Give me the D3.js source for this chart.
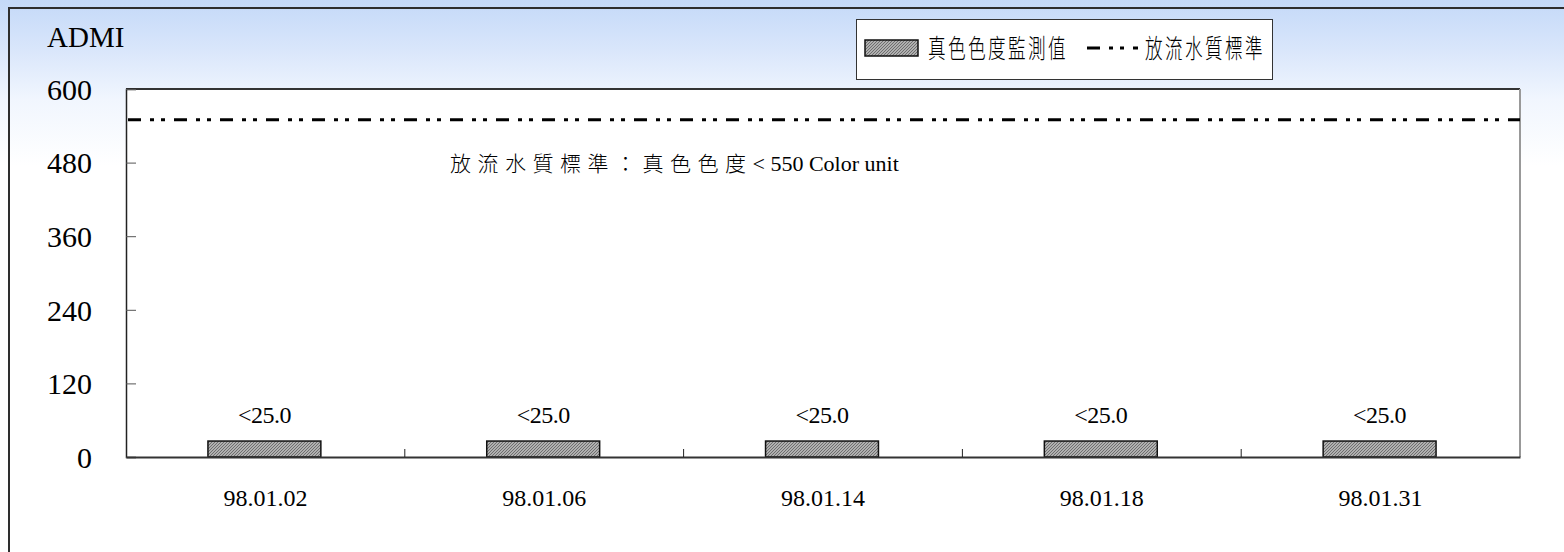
<!DOCTYPE html>
<html><head><meta charset="utf-8">
<script src="https://cdn.jsdelivr.net/npm/d3@7"></script>
<style>html,body{margin:0;padding:0;background:#fff;}svg{display:block;}</style>
</head><body>
<svg id="chart" width="1564" height="552"></svg>
<script>
const categories = ["98.01.02","98.01.06","98.01.14","98.01.18","98.01.31"];
const values = [26, 26, 26, 26, 26];
const valueLabels = ["<25.0","<25.0","<25.0","<25.0","<25.0"];
const yTicks = [0,120,240,360,480,600];
const standardValue = 550;
const seriesName = "真色色度監測值";
const standardName = "放流水質標準";
const annotationCJK = "放流水質標準：真色色度";
const annotationLatin = "< 550 Color unit";
const yTitle = "ADMI";

const W = 1564, H = 552;
const m = {left:126, top:89, right:1520, bottom:457};
const svg = d3.select("#chart");
const defs = svg.append("defs");

const grad = defs.append("linearGradient").attr("id","bg").attr("x1",0).attr("y1",0).attr("x2",0).attr("y2",1);
grad.append("stop").attr("offset","0").attr("stop-color","#c4d9f8");
grad.append("stop").attr("offset","0.09").attr("stop-color","#d9e6fb");
grad.append("stop").attr("offset","0.18").attr("stop-color","#f1f6fe");
grad.append("stop").attr("offset","0.3").attr("stop-color","#ffffff");
grad.append("stop").attr("offset","1").attr("stop-color","#ffffff");
svg.append("rect").attr("width",W).attr("height",H).attr("fill","url(#bg)");

const pat = defs.append("pattern").attr("id","hatch").attr("patternUnits","userSpaceOnUse")
  .attr("width",3).attr("height",3);
pat.append("rect").attr("width",3).attr("height",3).attr("fill","#b0b0b0");
pat.append("path").attr("d","M0,3 L3,0 M-1,1 L1,-1 M2,4 L4,2").attr("stroke","#666").attr("stroke-width",0.9);

const serif = "'Liberation Serif','Times New Roman',serif";
const cjk = "'Noto Sans CJK TC','Noto Sans CJK SC',sans-serif";

// outer frame
svg.append("path").attr("d",`M9,${H} V8 H${W}`).attr("fill","none").attr("stroke","#2e2e2e").attr("stroke-width",2);

// plot area
svg.append("rect").attr("x",m.left).attr("y",m.top).attr("width",m.right-m.left).attr("height",m.bottom-m.top).attr("fill","#fff");

const x = d3.scaleBand().domain(categories).range([m.left,m.right]).paddingInner(0).paddingOuter(0);
const y = d3.scaleLinear().domain([0,600]).range([m.bottom,m.top]);

// borders
svg.append("line").attr("x1",m.left).attr("x2",m.right).attr("y1",m.top).attr("y2",m.top).attr("stroke","#333").attr("stroke-width",2);
svg.append("line").attr("x1",m.right).attr("x2",m.right).attr("y1",m.top).attr("y2",m.bottom).attr("stroke","#999").attr("stroke-width",2);

// y axis
const yAxis = d3.axisLeft(y).tickValues(yTicks).tickSize(-10).tickPadding(34).tickFormat(d3.format("d"));
const gy = svg.append("g").attr("transform",`translate(${m.left},0)`).call(yAxis);
gy.select(".domain").attr("stroke","#222").attr("stroke-width",1.5);
gy.selectAll(".tick line").attr("stroke","#555").attr("stroke-width",1);
gy.selectAll(".tick text").attr("font-family",serif).attr("font-size",30).attr("fill","#000").attr("dy","0.34em");

// bars
const bw = x.bandwidth()*0.405;
svg.append("g").selectAll("rect").data(categories).join("rect")
  .attr("x",(d)=>x(d)+x.bandwidth()/2-bw/2-1)
  .attr("y",(d,i)=>y(values[i]))
  .attr("width",bw)
  .attr("height",(d,i)=>y(0)-y(values[i]))
  .attr("fill","url(#hatch)").attr("stroke","#111").attr("stroke-width",1.5);

svg.append("g").selectAll("text").data(categories).join("text")
  .attr("x",(d)=>x(d)+x.bandwidth()/2-1)
  .attr("y",423)
  .attr("text-anchor","middle")
  .attr("font-family",serif).attr("font-size",24).attr("letter-spacing",-0.5)
  .text((d,i)=>valueLabels[i]);

// x axis
const xAxis = d3.axisBottom(x).tickSize(0).tickPadding(0);
const gx = svg.append("g").attr("transform",`translate(0,${m.bottom})`).call(xAxis);
gx.select(".domain").attr("stroke","#333").attr("stroke-width",2);
gx.selectAll(".tick text").attr("font-family",serif).attr("font-size",24).attr("fill","#000").attr("dy",0).attr("y",49);
// category boundary ticks (inward)
const bounds = categories.slice(1).map(d=>x(d));
svg.append("g").selectAll("line").data(bounds).join("line")
  .attr("x1",d=>d).attr("x2",d=>d).attr("y1",m.bottom).attr("y2",m.bottom-8).attr("stroke","#222").attr("stroke-width",1);

// standard line
svg.append("line").attr("x1",m.left+2).attr("x2",m.right).attr("y1",y(standardValue)).attr("y2",y(standardValue))
  .attr("stroke","#000").attr("stroke-width",3).attr("stroke-dasharray","13,9,4,7,4,9");

// annotation
const ann = svg.append("text").attr("x",450).attr("y",171);
ann.append("tspan").attr("font-family",cjk).attr("font-weight",300).attr("font-size",21).attr("letter-spacing",6.5).text(annotationCJK);
ann.append("tspan").attr("font-family",serif).attr("font-size",22).text(annotationLatin);

// y title
svg.append("text").attr("x",47).attr("y",47).attr("font-family",serif).attr("font-size",29).text(yTitle);

// legend
svg.append("rect").attr("x",856.5).attr("y",19.5).attr("width",416).attr("height",60).attr("fill","#fff").attr("stroke","#333").attr("stroke-width",1);
svg.append("rect").attr("x",865).attr("y",40).attr("width",53).attr("height",16).attr("fill","url(#hatch)").attr("stroke","#111").attr("stroke-width",1.5);
svg.append("text").attr("transform","translate(928,58) scale(0.8,1.18)")
  .attr("font-family",cjk).attr("font-weight",300).attr("font-size",22).attr("letter-spacing",3).text(seriesName);
svg.append("line").attr("x1",1087).attr("x2",1138).attr("y1",48).attr("y2",48).attr("stroke","#000").attr("stroke-width",3).attr("stroke-dasharray","13,9,4,7,4,9");
svg.append("text").attr("transform","translate(1145,58) scale(0.8,1.18)")
  .attr("font-family",cjk).attr("font-weight",300).attr("font-size",22).attr("letter-spacing",3).text(standardName);
</script>
</body></html>
